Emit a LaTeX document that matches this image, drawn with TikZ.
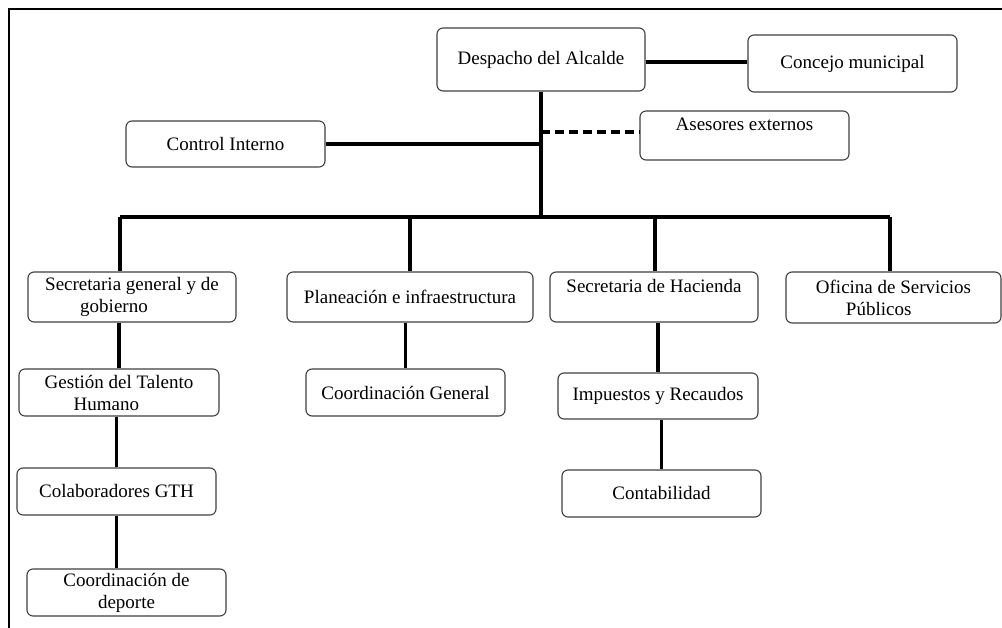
\documentclass[tikz,border=0pt]{standalone}
\usepackage{fontspec}
\setmainfont{Liberation Serif}
\begin{document}
\begin{tikzpicture}[x=1pt,y=-1pt,
  box/.style={draw=black!75, line width=1.1pt, rounded corners=6pt, fill=white,
    inner sep=0pt, align=center, font=\fontsize{19}{22}\selectfont},
  boxl/.style={box, align=left},
  conn/.style={line width=3.6pt, black},
  dconn/.style={line width=3.6pt, black, dash pattern=on 9pt off 5pt},
  frame/.style={line width=2.2pt, black}]
\useasboundingbox (0,0) rectangle (1002,628);
\draw[frame] (9,628) -- (9,9) -- (1002,9);

% nodes
\node[box, minimum width=208pt, minimum height=63pt] (desp) at (541,59.5) {Despacho del Alcalde};
\node[box, minimum width=209pt, minimum height=57pt] (conc) at (852.5,63.5) {Concejo municipal};
\node[box, minimum width=199pt, minimum height=46pt] (ci) at (225.5,144) {Control Interno};
\node[box, minimum width=209pt, minimum height=49pt] (ases) at (744.5,135.5) {Asesores externos\\\mbox{}};
\node[boxl, minimum width=208pt, minimum height=50pt] (sg) at (132,297) {Secretaria general y de\\\hspace*{35pt}gobierno};
\node[box, minimum width=246pt, minimum height=50pt] (plan) at (410,297) {Planeación e infraestructura};
\node[box, minimum width=208pt, minimum height=50pt] (hac) at (654,297) {Secretaria de Hacienda\\\mbox{}};
\node[boxl, minimum width=215pt, minimum height=51pt] (ofi) at (893.5,297.5) {Oficina de Servicios\\\hspace*{30pt}Públicos};
\node[boxl, minimum width=200pt, minimum height=47pt] (gth) at (119,392.5) {Gestión del Talento\\\hspace*{29pt}Humano};
\node[box, minimum width=199pt, minimum height=47pt] (cg) at (405.5,392.5) {Coordinación General};
\node[box, minimum width=200pt, minimum height=46pt] (imp) at (658,396) {Impuestos y Recaudos};
\node[box, minimum width=199pt, minimum height=47pt] (col) at (116.5,491.5) {Colaboradores GTH};
\node[box, minimum width=199pt, minimum height=47pt] (dep) at (126.5,592.5) {Coordinación de\\deporte};
\node[box, minimum width=199pt, minimum height=47pt] (cont) at (661.5,493.5) {Contabilidad};

% junction coordinates
\coordinate (tk) at (541,217);
\coordinate (dj) at (541,132);
\coordinate (b1) at (120,217);
\coordinate (b2) at (410,217);
\coordinate (b3) at (655,217);
\coordinate (b4) at (890,217);

% connectors
\draw[conn] (desp.east |- 0,62) -- (conc.west |- 0,62);
\draw[conn] (desp.south) -- (tk);
\draw[conn] (ci.east) -- (ci.east -| tk);
\draw[dconn] (dj) -- (dj -| ases.west);
\draw[conn] (b1) -- (b4);
\draw[conn] (b1) -- (b1 |- sg.north);
\draw[conn] (b2) -- (b2 |- plan.north);
\draw[conn] (b3) -- (b3 |- hac.north);
\draw[conn] (b4) -- (b4 |- ofi.north);
\draw[conn] (gth.north |- sg.south) -- (gth.north);
\draw[conn] (cg.north |- plan.south) -- (cg.north);
\draw[conn] (imp.north |- hac.south) -- (imp.north);
\draw[conn] (col.north |- gth.south) -- (col.north);
\draw[conn] (col.south) -- (col.south |- dep.north);
\draw[conn] (cont.north |- imp.south) -- (cont.north);
\end{tikzpicture}
\end{document}
